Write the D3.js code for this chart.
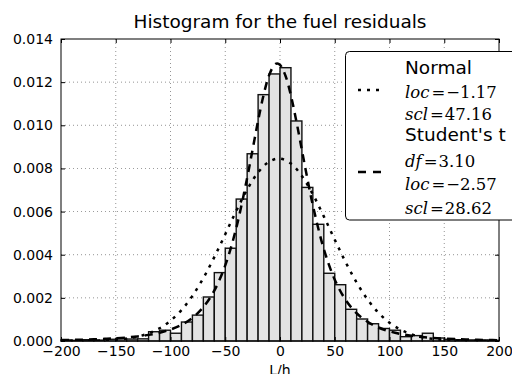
<!DOCTYPE html>
<html>
<head>
<meta charset="utf-8">
<style>
  body { margin: 0; background: #fff; }
  text { font-family: "DejaVu Sans", sans-serif; fill: #000; }
  .math { font-family: "DejaVu Serif", serif; }
</style>
<script src="https://cdn.jsdelivr.net/npm/d3@7/dist/d3.min.js"></script>
</head>
<body>
<script>

  // histogram: bin left edges (width 10) and density heights
  const binStart = d3.range(-200, 200, 10);
  const density = [
    0.00005, 0.00003, 0.00006, 0.00004, 0.00008, 0.00010, 0.00009, 0.00010,
    0.00043, 0.00050, 0.00036, 0.00088, 0.00120, 0.00204, 0.00317, 0.00430,
    0.00658, 0.00868, 0.01142, 0.01238, 0.01267, 0.01020, 0.00712, 0.00541,
    0.00314, 0.00261, 0.00147, 0.00102, 0.00080, 0.00058, 0.00050, 0.00020,
    0.00025, 0.00036, 0.00014, 0.00008, 0.00006, 0.00005, 0.00005, 0.00003
  ];

  // fitted normal curve, sampled
  const normalX = d3.range(-200, 201, 10);
  const normalY = [
    0.000001, 0.000003, 0.000006, 0.000014, 0.000029, 0.000058, 0.000111,
    0.000203, 0.000354, 0.000590, 0.000940, 0.001434, 0.002090, 0.002917,
    0.003886, 0.004950, 0.006028, 0.007019, 0.007812, 0.008313, 0.008456,
    0.008225, 0.007648, 0.006800, 0.005778, 0.004696, 0.003648, 0.002709,
    0.001923, 0.001305, 0.000848, 0.000526, 0.000312, 0.000177, 0.000096,
    0.000050, 0.000025, 0.000012, 0.000005, 0.000002, 0.000001
  ];

  // fitted student's t curve, sampled
  const studentX = [
    -200, -190, -180, -170, -160, -150, -140, -130, -120, -110, -100, -90,
    -80, -70, -60, -50, -40, -30, -25, -20, -15, -10, -5, -2.5, 0, 5, 10, 15,
    20, 25, 30, 40, 50, 60, 70, 80, 90, 100, 110, 120, 130, 140, 150, 160,
    170, 180, 190, 200
  ];
  const studentY = [
    0.0000419, 0.0000511, 0.0000630, 0.0000784, 0.0000987, 0.000126,
    0.000163, 0.000213, 0.000284, 0.000384, 0.000530, 0.000746, 0.001072,
    0.001570, 0.002336, 0.003505, 0.005228, 0.007560, 0.008883, 0.010210,
    0.011401, 0.012315, 0.012809, 0.012870, 0.012802, 0.012295, 0.011372,
    0.010174, 0.008847, 0.007524, 0.006291, 0.004266, 0.002844, 0.001901,
    0.001287, 0.000888, 0.000625, 0.000448, 0.000328, 0.000244, 0.000185,
    0.000142, 0.000111, 0.000088, 0.000070, 0.000056, 0.000046, 0.000038
  ];

  const xTicks = [-200, -150, -100, -50, 0, 50, 100, 150, 200];
  const yTicks = [0, 0.002, 0.004, 0.006, 0.008, 0.010, 0.012, 0.014];

  const W = 512, H = 374;
  const margin = { top: 39, right: 13, bottom: 33, left: 61 },
        width = W - margin.left - margin.right,
        height = H - margin.top - margin.bottom;

  const x = d3.scaleLinear().domain([-200, 200]).range([0, width]);
  const y = d3.scaleLinear().domain([0, 0.014]).range([height, 0]);

  const svg = d3.select("body").append("svg")
    .attr("width", W).attr("height", H);

  svg.append("defs").append("clipPath").attr("id", "clip")
    .append("rect").attr("width", width).attr("height", height);

  const g = svg.append("g")
    .attr("transform", `translate(${margin.left}, ${margin.top})`);

  // grid
  g.append("g").selectAll("line").data(xTicks.slice(1, -1)).join("line")
    .attr("x1", d => x(d)).attr("x2", d => x(d))
    .attr("y1", 0).attr("y2", height)
    .attr("stroke", "#000").attr("stroke-width", 0.6)
    .attr("stroke-dasharray", "1,3").attr("opacity", 0.7);
  g.append("g").selectAll("line").data(yTicks.slice(1, -1)).join("line")
    .attr("y1", d => y(d)).attr("y2", d => y(d))
    .attr("x1", 0).attr("x2", width)
    .attr("stroke", "#000").attr("stroke-width", 0.6)
    .attr("stroke-dasharray", "1,3").attr("opacity", 0.7);

  // bars
  g.append("g").selectAll("rect").data(binStart).join("rect")
    .attr("x", d => x(d))
    .attr("width", d => x(d + 10) - x(d))
    .attr("y", (d, i) => y(density[i]))
    .attr("height", (d, i) => height - y(density[i]))
    .attr("fill", "#e3e3e3")
    .attr("stroke", "#111")
    .attr("stroke-width", 1.4);

  // fitted curves
  const line = d3.line()
    .x(d => x(d[0])).y(d => y(d[1]))
    .curve(d3.curveCatmullRom);

  const curves = g.append("g").attr("clip-path", "url(#clip)");
  curves.append("path")
    .datum(normalX.map((v, i) => [v, normalY[i]]))
    .attr("d", line)
    .attr("fill", "none").attr("stroke", "#000")
    .attr("stroke-width", 2.5).attr("stroke-dasharray", "3,6");
  curves.append("path")
    .datum(studentX.map((v, i) => [v, studentY[i]]))
    .attr("d", line)
    .attr("fill", "none").attr("stroke", "#000")
    .attr("stroke-width", 2.5).attr("stroke-dasharray", "8,6");

  // frame
  g.append("rect")
    .attr("width", width).attr("height", height)
    .attr("fill", "none").attr("stroke", "#000").attr("stroke-width", 1);

  // axes, ticks pointing inward
  const xAxis = g.append("g")
    .attr("transform", `translate(0, ${height})`)
    .call(d3.axisBottom(x).tickValues(xTicks).tickSize(-4).tickPadding(5));
  g.append("g")
    .call(d3.axisTop(x).tickValues(xTicks).tickSize(-4).tickFormat(""));
  const yAxis = g.append("g")
    .call(d3.axisLeft(y).tickValues(yTicks).tickSize(-4).tickPadding(8)
      .tickFormat(d3.format(".3f")));
  g.append("g")
    .attr("transform", `translate(${width}, 0)`)
    .call(d3.axisRight(y).tickValues(yTicks).tickSize(-4).tickFormat(""));

  g.selectAll(".domain").remove();
  g.selectAll(".tick line").attr("stroke", "#000");
  xAxis.selectAll("text").style("font-size", "14px").attr("fill", "#000");
  yAxis.selectAll("text").style("font-size", "14px").attr("fill", "#000");

  // title + x label
  svg.append("text")
    .attr("x", margin.left + width / 2).attr("y", 28)
    .attr("text-anchor", "middle")
    .style("font-size", "18.5px")
    .text("Histogram for the fuel residuals");
  svg.append("text")
    .attr("x", margin.left + width / 2).attr("y", 375)
    .attr("text-anchor", "middle")
    .style("font-size", "14px")
    .text("L/h");

  // legend
  const lg = svg.append("g");
  lg.append("rect")
    .attr("x", 345.5).attr("y", 51.5)
    .attr("width", 190).attr("height", 168.5)
    .attr("rx", 4)
    .attr("fill", "#fff").attr("stroke", "#000").attr("stroke-width", 1);

  lg.append("line")
    .attr("x1", 358).attr("x2", 382).attr("y1", 90).attr("y2", 90)
    .attr("stroke", "#000").attr("stroke-width", 2.5)
    .attr("stroke-dasharray", "3,6");
  lg.append("line")
    .attr("x1", 358).attr("x2", 382).attr("y1", 172).attr("y2", 172)
    .attr("stroke", "#000").attr("stroke-width", 2.5)
    .attr("stroke-dasharray", "8,7");

  const legendRows = [
    { y: 74, plain: "Normal" },
    { y: 98, v: "loc", n: "\u22121.17" },
    { y: 120, v: "scl", n: "47.16" },
    { y: 141, plain: "Student's t" },
    { y: 167, v: "df", n: "3.10" },
    { y: 190, v: "loc", n: "\u22122.57" },
    { y: 214, v: "scl", n: "28.62" }
  ];
  legendRows.forEach(r => {
    if (r.plain) {
      lg.append("text").attr("x", 405).attr("y", r.y)
        .style("font-size", "18.5px").text(r.plain);
    } else {
      const t = lg.append("text").attr("class", "math")
        .attr("x", 405).attr("y", r.y).style("font-size", "16.5px");
      t.append("tspan").style("font-style", "italic").text(r.v);
      t.append("tspan").attr("dx", 2).text("=");
      t.append("tspan").attr("dx", 1).text(r.n);
    }
  });
</script>
</body>
</html>
